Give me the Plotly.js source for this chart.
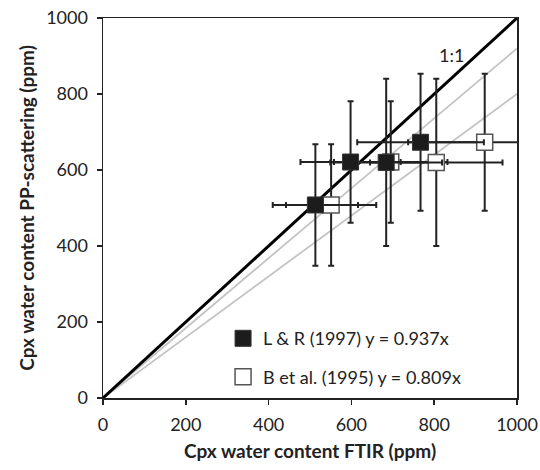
<!DOCTYPE html>
<html>
<head>
<meta charset="utf-8">
<script src="https://cdn.plot.ly/plotly-3.0.1.min.js"></script>
<style>html,body{margin:0;padding:0;background:#fff;}#chart{width:540px;height:470px;}</style>
</head>
<body>
<div id="chart"></div>
<script>
// L & R (1997) calibration — filled squares
var lrX = [513, 598, 684, 767];
var lrY = [508, 621, 620, 673];
var lrXerr = [103, 121, 135, 153];
var lrYerr = [160, 160, 220, 180];
var lrName = "L & R (1997) y = 0.937x";

// B et al. (1995) calibration — open squares
var bX = [551, 695, 805, 922];
var bY = [508, 621, 620, 673];
var bXerr = [109, 137, 160, 185];
var bYerr = [160, 160, 220, 180];
var bName = "B et al. (1995) y = 0.809x";

// Reference / regression lines (slope through origin)
var lineX = [0, 1000];
var slopeOne = 1;
var slopeLR = 0.92;
var slopeB = 0.80;

var xTicks = [0, 200, 400, 600, 800, 1000];
var yTicks = [0, 200, 400, 600, 800, 1000];

var FONT = "Lato, 'Open Sans', sans-serif";
var INK = "#222";

function lineY(s){ return lineX.map(function(v){ return v * s; }); }

var traces = [
  {x: lineX, y: lineY(slopeB), mode: "lines", line: {color: "#c4c4c4", width: 1.8}, showlegend: false, hoverinfo: "skip"},
  {x: lineX, y: lineY(slopeLR), mode: "lines", line: {color: "#c4c4c4", width: 1.8}, showlegend: false, hoverinfo: "skip"},
  {x: lineX, y: lineY(slopeOne), mode: "lines", line: {color: "#000", width: 3}, showlegend: false, hoverinfo: "skip"},
  {x: bX, y: bY, name: bName, mode: "markers", legendgroup: "b", legendrank: 2,
   marker: {symbol: "square", size: 16, color: "#fff", line: {color: "#555", width: 1.5}},
   error_x: {type: "data", array: bXerr, visible: true, color: INK, thickness: 2, width: 3},
   error_y: {type: "data", array: bYerr, visible: true, color: INK, thickness: 2, width: 3}},
  {x: lrX, y: lrY, name: lrName, mode: "markers", legendgroup: "a", legendrank: 1,
   marker: {symbol: "square", size: 16, color: "#1c1c1c", line: {color: "#333", width: 1}},
   error_x: {type: "data", array: lrXerr, visible: true, color: INK, thickness: 2, width: 3},
   error_y: {type: "data", array: lrYerr, visible: true, color: INK, thickness: 2, width: 3}}
];

var axisCommon = {
  showgrid: false, zeroline: false, showline: true, linecolor: "#222", linewidth: 1.5,
  mirror: true, ticks: "outside", ticklen: 5, tickwidth: 1.5, tickcolor: "#222",
  tickfont: {family: FONT, size: 18, color: INK}, fixedrange: true
};

var layout = {
  width: 540, height: 470,
  margin: {l: 103, r: 23, t: 18, b: 72},
  paper_bgcolor: "#fff", plot_bgcolor: "#fff",
  showlegend: true,
  legend: {x: 0.29, y: 0.205, xanchor: "left", yanchor: "top", bgcolor: "rgba(0,0,0,0)",
           traceorder: "grouped", tracegroupgap: 12,
           font: {family: FONT, size: 18, color: INK}},
  xaxis: Object.assign({}, axisCommon, {range: [0, 1000], tickvals: xTicks, ticklabelstandoff: 5,
    title: {text: "Cpx water content FTIR (ppm)", font: {family: FONT, size: 19, color: INK, weight: "bold"}, standoff: 10}}),
  yaxis: Object.assign({}, axisCommon, {range: [0, 1000], tickvals: yTicks, ticklabelstandoff: 5,
    title: {text: "Cpx water content PP-scattering (ppm)", font: {family: FONT, size: 19, color: INK, weight: "bold"}, standoff: 6}}),
  annotations: [
    {x: 841, y: 902, xref: "x", yref: "y", text: "1:1", showarrow: false,
     font: {family: FONT, size: 18, color: INK}}
  ]
};

Plotly.newPlot("chart", traces, layout, {staticPlot: true, displayModeBar: false});
</script>
</body>
</html>
